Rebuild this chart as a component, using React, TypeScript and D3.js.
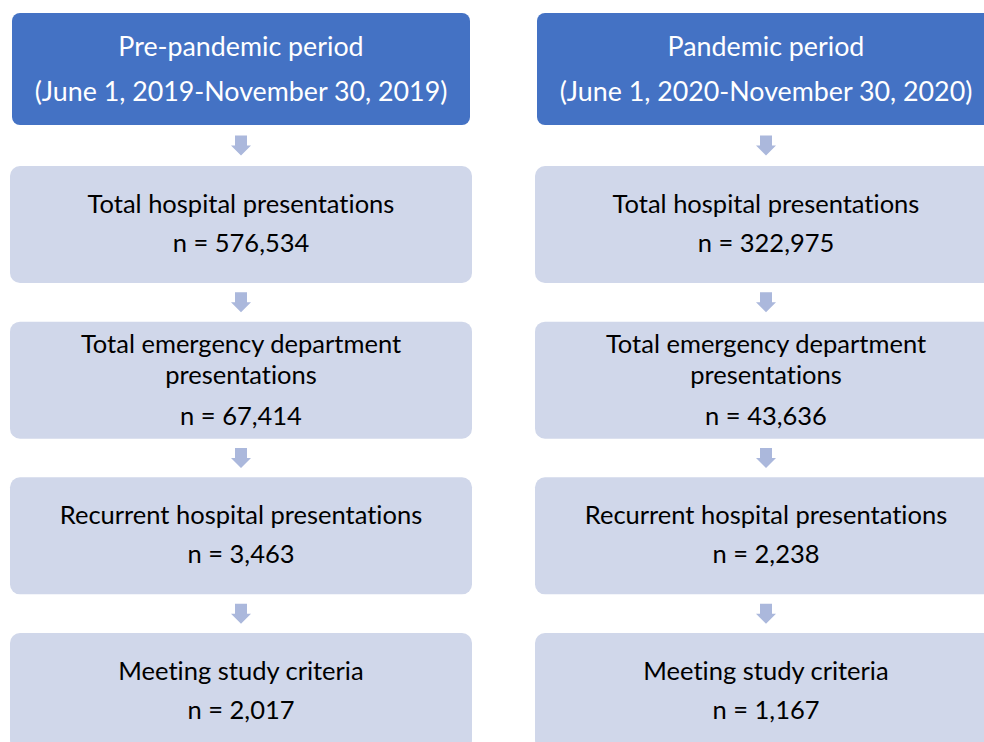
import * as d3 from 'd3'
import React from 'react'

const periods = ['Pre-pandemic period', 'Pandemic period'];
const periodRanges = ['(June 1, 2019-November 30, 2019)', '(June 1, 2020-November 30, 2020)'];
const stepLabels = [
    ['Total hospital presentations'],
    ['Total emergency department', 'presentations'],
    ['Recurrent hospital presentations'],
    ['Meeting study criteria'],
];
const preCounts = [576534, 67414, 3463, 2017];
const pandemicCounts = [322975, 43636, 2238, 1167];

const W = 984;
const H = 742;
const FONT = 'Lato, "Open Sans", sans-serif';
const fmt = d3.format(',');

const App = () => {
    const counts = [preCounts, pandemicCounts];
    const xScale = d3.scaleBand<string>()
        .domain(periods)
        .range([10, 997])
        .paddingInner(0.12);
    const yScale = d3.scaleBand<number>()
        .domain(d3.range(stepLabels.length))
        .range([166, 750])
        .paddingInner(0.2486);
    const header = { top: 13, height: 112, inset: 2 };
    const textStyle = { fontVariantLigatures: 'none' as const };

    return (
        <svg width={W} height={H} style={{ position: 'fixed', left: 0, top: 0 }}>
            <rect width={W} height={H} fill='#ffffff' />
            {periods.map((p, ci) => {
                const x0 = xScale(p)!;
                const bw = xScale.bandwidth();
                const cx = x0 + bw / 2;
                return (
                    <g key={p} style={textStyle}>
                        <rect x={x0 + header.inset} y={header.top} width={bw - header.inset * 2} height={header.height}
                            rx={8} fill='#4472c4' />
                        <text x={cx} y={56} textAnchor='middle' fill='#ffffff' fontFamily={FONT} fontSize={26.8}>{p}</text>
                        <text x={cx} y={101} textAnchor='middle' fill='#ffffff' fontFamily={FONT} fontSize={26.8}>{periodRanges[ci]}</text>
                        {stepLabels.map((lines, ri) => {
                            const y0 = yScale(ri)!;
                            const bh = yScale.bandwidth();
                            const arrowTop = ri === 0 ? header.top + header.height : y0 - (yScale.step() - bh);
                            const gapMid = (arrowTop + y0) / 2;
                            const arrow = `M${cx - 6},${gapMid - 10} L${cx + 6},${gapMid - 10} L${cx + 6},${gapMid} L${cx + 10},${gapMid} L${cx},${gapMid + 10} L${cx - 10},${gapMid} L${cx - 6},${gapMid} Z`;
                            const n = lines.length;
                            const firstBase = n === 1 ? y0 + 47 : y0 + 31;
                            return (
                                <g key={ri}>
                                    <path d={arrow} fill='#abb8dc' />
                                    <rect x={x0} y={y0} width={bw} height={bh} rx={10} fill='#d0d7ea' />
                                    {lines.map((l, li) => (
                                        <text key={li} x={cx} y={firstBase + li * 31} textAnchor='middle' fill='#000000'
                                            fontFamily={FONT} fontSize={25.5}>{l}</text>
                                    ))}
                                    <text x={cx} y={firstBase + (n - 1) * 31 + (n === 1 ? 39 : 41)} textAnchor='middle' fill='#000000'
                                        fontFamily={FONT} fontSize={25.5}>{`n = ${fmt(counts[ci][ri])}`}</text>
                                </g>
                            );
                        })}
                    </g>
                );
            })}
        </svg>
    );
};

export default App;
